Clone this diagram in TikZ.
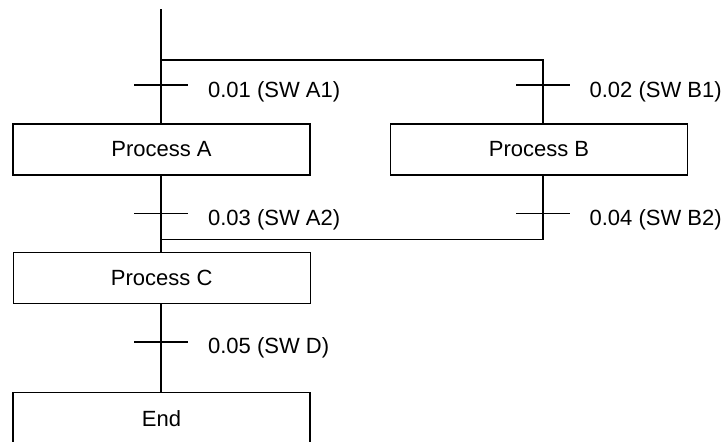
\documentclass[tikz,border=0pt]{standalone}
\usepackage{fontspec}
\setmainfont{Liberation Sans}
\begin{document}
\begin{tikzpicture}[x=1pt,y=-1pt, line width=1.25pt,
  box/.style={draw, rectangle, minimum width=297pt, minimum height=51pt, inner sep=0pt, font=\fontsize{22}{26}\selectfont},
  lbl/.style={anchor=base west, inner sep=0pt, font=\fontsize{22}{26}\selectfont},
  tickline/.style={line width=1.25pt}]
\useasboundingbox (0,0) rectangle (724,442);
\clip (0,0) rectangle (724,442);
% boxes
\node[box] (A) at (161.5,149.5) {Process A};
\node[box] (B) at (539,149.5) {Process B};
\node[box] (C) at (161.7,277.7) {Process C};
\node[box] (E) at (161.5,418.2) {End};
% coordinates
\coordinate (top) at (161,9);
\coordinate (jt) at (161,60);
\coordinate (jtB) at (543,60);
\coordinate (jb) at (161,239.3);
\coordinate (jbB) at (543,239.3);
\coordinate (t1) at (161,85);
\coordinate (t2) at (543,85);
\coordinate (t3) at (161,213.5);
\coordinate (t4) at (543,213.5);
\coordinate (t5) at (161,342);
% main lines
\draw (top) -- (top |- A.north);
\draw (jt) -- (jtB) -- (jtB |- B.north);
\draw (jt |- A.south) -- (jt |- C.north);
\draw (jtB |- B.south) -- (jbB) -- (jb);
\draw (jt |- C.south) -- (jt |- E.north);
% ticks
\foreach \t in {t1,t2,t3,t4,t5}
  \draw[tickline] ([xshift=-27pt]\t) -- ([xshift=27pt]\t);
% labels
\node[lbl] (l1) at (207.5,97.5) {0.01 (SW A1)};
\node[lbl] (l2) at (589,97) {0.02 (SW B1)};
\node[lbl] (l3) at (207.5,225.5) {0.03 (SW A2)};
\node[lbl] (l4) at (589,225.5) {0.04 (SW B2)};
\node[lbl] (l5) at (207.5,353) {0.05 (SW D)};
\end{tikzpicture}
\end{document}
